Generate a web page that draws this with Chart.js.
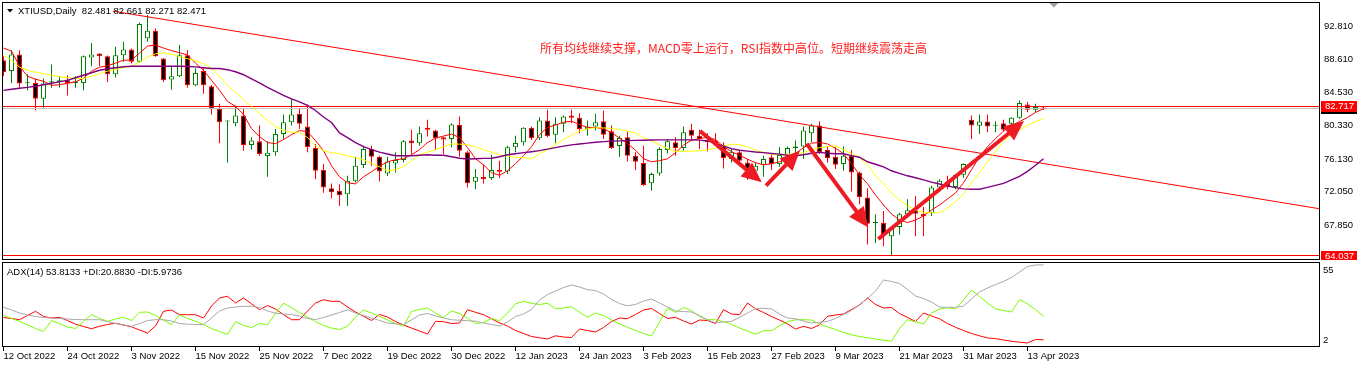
<!DOCTYPE html>
<html><head><meta charset="utf-8">
<script src="https://cdn.jsdelivr.net/npm/chart.js@4.4.0/dist/chart.umd.min.js"></script>
<style>
html,body{margin:0;padding:0;background:#fff;width:1362px;height:368px;overflow:hidden;}
#main{position:absolute;left:0;top:0;}
#adx{position:absolute;left:0;top:260px;}
</style></head><body>
<canvas id="main" width="1362" height="260"></canvas>
<canvas id="adx" width="1362" height="108"></canvas>
<script>
const dates = [
"12 Oct 2022","13 Oct 2022","14 Oct 2022","17 Oct 2022","18 Oct 2022","19 Oct 2022","20 Oct 2022","21 Oct 2022","24 Oct 2022","25 Oct 2022",
"26 Oct 2022","27 Oct 2022","28 Oct 2022","31 Oct 2022","1 Nov 2022","2 Nov 2022","3 Nov 2022","4 Nov 2022","7 Nov 2022","8 Nov 2022",
"9 Nov 2022","10 Nov 2022","11 Nov 2022","14 Nov 2022","15 Nov 2022","16 Nov 2022","17 Nov 2022","18 Nov 2022","21 Nov 2022","22 Nov 2022",
"23 Nov 2022","24 Nov 2022","25 Nov 2022","28 Nov 2022","29 Nov 2022","30 Nov 2022","1 Dec 2022","2 Dec 2022","5 Dec 2022","6 Dec 2022",
"7 Dec 2022","8 Dec 2022","9 Dec 2022","12 Dec 2022","13 Dec 2022","14 Dec 2022","15 Dec 2022","16 Dec 2022","19 Dec 2022","20 Dec 2022",
"21 Dec 2022","22 Dec 2022","23 Dec 2022","27 Dec 2022","28 Dec 2022","29 Dec 2022","30 Dec 2022","3 Jan 2023","4 Jan 2023","5 Jan 2023",
"6 Jan 2023","9 Jan 2023","10 Jan 2023","11 Jan 2023","12 Jan 2023","13 Jan 2023","16 Jan 2023","17 Jan 2023","18 Jan 2023","19 Jan 2023",
"20 Jan 2023","23 Jan 2023","24 Jan 2023","25 Jan 2023","26 Jan 2023","27 Jan 2023","30 Jan 2023","31 Jan 2023","1 Feb 2023","2 Feb 2023",
"3 Feb 2023","6 Feb 2023","7 Feb 2023","8 Feb 2023","9 Feb 2023","10 Feb 2023","13 Feb 2023","14 Feb 2023","15 Feb 2023","16 Feb 2023",
"17 Feb 2023","20 Feb 2023","21 Feb 2023","22 Feb 2023","23 Feb 2023","24 Feb 2023","27 Feb 2023","28 Feb 2023","1 Mar 2023","2 Mar 2023",
"3 Mar 2023","6 Mar 2023","7 Mar 2023","8 Mar 2023","9 Mar 2023","10 Mar 2023","13 Mar 2023","14 Mar 2023","15 Mar 2023","16 Mar 2023",
"17 Mar 2023","20 Mar 2023","21 Mar 2023","22 Mar 2023","23 Mar 2023","24 Mar 2023","27 Mar 2023","28 Mar 2023","29 Mar 2023","30 Mar 2023",
"31 Mar 2023","3 Apr 2023","4 Apr 2023","5 Apr 2023","6 Apr 2023","10 Apr 2023","11 Apr 2023","12 Apr 2023","13 Apr 2023","14 Apr 2023",
"17 Apr 2023"];

const opens = [88.52,87.18,89.24,85.70,85.66,83.70,85.71,85.79,86.00,85.66,
85.66,88.86,89.37,89.03,86.76,89.15,89.87,88.31,91.26,92.22,
88.74,86.09,86.51,89.15,85.37,87.18,85.25,82.44,80.85,80.62,
81.59,77.90,78.35,76.51,76.97,79.28,80.75,81.81,80.20,77.52,
74.75,72.48,72.14,71.72,73.40,75.38,77.39,76.42,74.32,75.58,
76.01,78.44,78.10,80.04,79.70,78.85,78.65,80.41,76.97,73.27,
73.90,73.74,74.79,74.57,77.60,78.23,80.04,78.73,80.96,79.16,
80.54,81.59,81.30,79.91,80.20,80.87,79.61,77.77,78.85,76.55,
75.63,73.11,74.32,77.27,78.23,77.52,79.79,79.06,78.53,78.44,
77.90,76.13,76.97,75.70,74.66,75.41,76.34,75.50,76.68,77.52,
77.69,79.36,80.33,77.27,76.42,75.50,76.55,74.45,71.30,68.10,
68.14,66.46,67.60,69.20,69.70,69.28,69.40,72.55,73.31,72.64,
74.15,81.05,80.29,80.83,80.30,80.62,80.54,81.30,82.98,82.31,
82.481];
const highs = [89.00,89.78,89.78,86.76,86.22,86.22,87.98,86.51,86.63,86.51,
89.10,90.63,89.40,89.10,90.20,90.83,90.00,93.23,94.20,92.50,
88.80,87.68,90.41,89.78,87.48,87.68,85.40,83.07,80.96,82.85,
82.44,78.85,80.33,78.35,79.91,81.72,83.70,82.44,82.98,78.02,
75.50,73.06,72.98,74.03,76.42,77.81,77.81,76.55,76.42,76.97,
78.53,79.79,80.20,81.05,79.79,78.90,80.62,81.46,77.18,74.87,
75.41,76.68,75.92,77.81,79.06,80.10,80.20,81.38,82.31,81.38,
81.59,82.31,81.88,80.96,81.81,82.22,80.33,79.06,79.57,76.97,
77.81,74.45,77.60,78.65,78.85,80.20,80.54,79.79,79.36,79.36,
78.23,77.39,77.18,76.13,75.70,76.55,76.68,77.60,77.69,78.44,
80.20,80.54,80.87,77.69,77.60,77.69,77.27,74.57,72.48,69.20,
69.61,67.72,69.40,71.09,71.51,70.12,72.77,73.61,74.03,74.24,
75.58,81.59,81.72,81.72,80.87,81.05,81.38,83.48,83.27,83.07,
82.661];
const lows = [86.50,85.63,85.08,84.74,82.22,82.56,85.08,85.08,84.11,85.08,
84.74,87.77,87.77,85.79,86.34,88.31,88.11,88.20,90.83,88.94,
85.79,84.83,86.40,85.08,85.25,84.33,81.72,78.10,75.70,80.25,
77.18,77.34,76.55,73.90,76.55,78.65,80.33,79.91,76.97,73.61,
71.92,71.22,70.25,70.25,73.18,75.00,75.29,73.31,73.99,74.45,
75.70,76.76,77.81,78.94,77.27,76.76,77.60,76.42,72.55,72.35,
73.06,73.49,73.74,74.24,76.97,77.81,78.53,78.53,78.85,78.10,
79.49,80.62,79.36,79.06,79.70,78.65,77.39,76.42,75.83,74.75,
72.77,72.14,74.03,76.84,76.55,77.18,78.44,77.39,77.10,77.81,
74.95,75.70,75.29,73.49,74.24,73.90,74.75,75.16,75.70,76.34,
76.13,78.23,76.76,75.70,74.87,74.66,72.05,70.46,65.42,65.62,
65.20,64.04,66.68,68.99,66.46,66.46,68.99,72.35,72.35,72.35,
73.74,78.65,79.28,79.49,79.49,79.61,79.28,81.17,82.01,82.01,
82.271];
const closes = [87.01,89.24,85.59,85.80,83.70,85.59,85.88,86.00,85.66,85.85,
89.03,89.24,89.03,86.76,89.15,89.87,88.31,93.06,92.22,89.03,
86.00,86.51,89.15,85.37,86.92,85.37,82.44,80.75,80.92,81.59,
77.90,78.44,76.76,76.93,79.28,80.75,81.72,80.54,77.60,74.66,
72.55,71.97,71.60,73.40,75.29,77.39,76.42,74.57,75.83,76.01,
78.35,78.10,79.36,79.79,78.73,78.57,80.46,77.18,73.11,73.90,
73.61,74.75,74.53,77.60,78.15,80.04,78.73,80.96,78.98,80.54,
81.46,81.30,79.91,80.20,80.75,79.16,77.52,78.78,76.55,75.79,
72.89,74.24,77.39,78.35,77.52,79.49,79.06,78.65,78.23,78.10,
76.26,76.97,75.92,74.45,75.29,76.13,75.50,76.64,77.52,77.69,
79.70,80.33,76.97,76.26,75.41,76.55,74.45,71.38,68.02,68.20,
66.59,67.51,69.20,69.70,69.28,68.95,72.55,73.40,72.64,74.15,
75.50,80.33,80.83,80.20,80.35,79.79,81.30,83.14,82.31,82.64,
82.471];

const maFast = [90.04,89.66,87.77,86.51,86.13,85.88,85.37,85.44,85.63,85.81,
86.26,87.14,87.64,87.83,88.15,88.52,88.52,89.41,90.29,90.41,
90.04,89.72,89.47,89.16,88.15,87.26,86.00,84.74,83.36,82.73,
81.72,79.95,78.94,78.19,78.06,78.57,79.20,79.70,79.57,78.44,
77.18,75.29,73.90,73.15,73.02,73.90,74.53,75.22,75.79,76.04,
76.17,76.67,77.30,78.19,78.75,79.01,79.26,78.82,77.56,76.17,
75.41,74.41,74.09,74.66,75.54,76.55,77.68,79.20,80.08,80.39,
80.75,80.87,80.46,80.08,80.08,79.91,79.45,78.75,78.06,77.24,
76.17,75.79,75.92,76.17,76.93,77.87,78.50,78.69,78.86,78.57,
77.68,77.05,76.61,76.11,75.67,75.41,75.54,75.79,76.17,76.80,
77.56,78.12,78.22,78.02,77.49,76.80,75.54,74.15,73.02,71.63,
70.37,69.24,68.48,68.17,68.48,68.99,69.74,70.37,71.13,71.88,
73.15,74.78,76.42,77.68,78.69,79.64,80.33,80.83,81.34,81.97,
82.44];
const maMid = [89.16,88.52,87.64,87.26,87.01,86.82,86.63,86.44,86.34,86.26,
86.22,86.51,86.82,87.14,87.33,87.58,87.77,88.27,88.90,89.33,
89.44,89.28,88.97,88.71,88.46,88.08,87.52,86.51,85.37,84.49,
83.61,82.73,81.84,80.96,80.20,79.70,79.49,79.49,78.82,77.81,
77.18,76.93,76.80,76.55,76.30,76.04,75.60,75.16,74.66,74.78,
75.16,75.92,76.67,76.99,77.30,77.68,78.02,78.00,77.93,77.68,
77.30,76.99,76.67,76.49,76.36,76.30,76.17,76.80,77.30,77.93,
78.57,79.13,79.64,79.95,80.04,80.04,79.95,79.83,79.64,79.39,
78.82,78.38,77.93,77.43,77.09,77.09,77.12,77.15,77.30,77.49,
77.75,78.00,77.93,77.68,77.24,76.93,76.74,76.67,76.71,76.76,
76.93,77.30,77.56,77.68,77.81,77.30,76.80,76.30,75.41,74.03,
73.02,71.88,71.00,70.25,69.74,69.40,69.40,69.40,69.99,70.75,
71.76,73.14,74.41,75.79,77.05,78.31,79.26,79.83,80.33,80.83,
81.21];
const maSlow = [84.74,84.87,85.00,85.12,85.25,85.44,85.63,85.81,86.00,86.32,
86.63,86.95,87.26,87.45,87.58,87.70,87.77,87.77,87.77,87.77,
87.77,87.77,87.77,87.73,87.68,87.58,87.48,87.48,87.33,87.07,
86.70,86.19,85.69,85.12,84.62,84.11,83.67,83.29,82.85,82.22,
81.40,80.71,79.40,78.82,78.19,77.68,77.30,76.99,76.76,76.55,
76.55,76.55,76.61,76.67,76.61,76.61,76.42,76.23,76.13,76.17,
76.21,76.23,76.42,76.67,76.80,76.93,77.05,77.18,77.37,77.56,
77.75,77.91,78.02,78.12,78.23,78.31,78.38,78.41,78.44,78.47,
78.49,78.52,78.53,78.53,78.53,78.53,78.53,78.50,78.40,78.12,
77.75,77.43,77.24,77.12,77.01,76.93,76.83,76.74,76.61,76.55,
76.67,76.86,76.96,76.86,76.80,76.80,76.55,76.36,75.79,75.48,
75.16,74.66,74.34,74.03,73.78,73.52,73.23,73.00,72.77,72.54,
72.39,72.35,72.35,72.58,72.83,73.08,73.52,73.96,74.59,75.35,
76.17];

const adxLine = [26.71,24.99,23.07,21.79,20.83,20.20,19.88,19.56,19.24,18.92,
18.79,18.79,18.79,17.64,16.36,15.41,14.58,16.36,18.28,18.79,
18.79,17.96,16.36,15.92,15.73,15.60,19.88,24.35,26.26,26.90,
27.35,27.35,26.58,24.35,22.94,22.43,22.05,21.15,19.56,18.92,
20.20,21.79,23.39,25.11,23.07,21.47,19.88,18.28,16.68,16.17,
15.73,18.60,21.79,22.75,21.15,19.88,18.73,18.47,18.15,17.83,
16.68,15.73,14.77,17.32,20.83,22.43,25.31,31.37,34.88,37.12,
39.35,40.95,39.67,37.95,37.44,35.20,31.69,29.14,27.67,28.50,
30.73,32.01,29.46,26.90,24.35,24.03,23.71,21.47,18.60,16.81,
17.32,17.77,20.20,23.07,25.94,26.07,25.62,22.43,19.88,19.37,
17.96,16.68,17.19,17.64,19.56,22.11,24.67,28.50,32.33,37.12,
44.14,43.19,41.91,38.08,33.93,32.33,30.09,26.90,26.71,26.71,
27.54,32.01,36.48,39.04,41.27,43.19,45.74,49.25,52.76,53.72,
53.81];
const plusDI = [21.47,19.56,17.77,15.41,13.17,11.26,18.28,16.36,14.13,13.17,
17.64,22.11,19.56,17.77,19.24,20.32,18.28,23.52,23.71,21.47,
18.60,15.73,21.79,19.56,17.83,15.73,13.17,11.26,9.34,17.64,
15.09,13.81,16.36,15.60,22.75,29.33,26.58,23.39,20.52,17.64,
15.09,13.49,12.53,14.58,20.52,24.99,23.07,20.96,18.60,16.36,
14.77,24.03,25.31,26.26,23.07,20.20,24.35,22.75,19.69,16.36,
17.00,19.56,18.15,23.07,28.95,30.54,29.26,28.50,29.33,25.82,
26.26,27.03,23.52,20.32,23.07,21.47,18.47,16.05,14.00,11.89,
9.98,8.38,17.32,26.07,23.52,26.58,24.60,20.83,18.79,18.79,
17.64,15.73,13.49,11.58,9.53,11.77,11.77,14.90,17.45,18.79,
18.79,18.60,16.05,14.13,12.53,10.62,9.15,8.06,7.30,6.47,
5.70,5.00,13.17,18.79,17.45,16.05,23.07,25.62,26.45,25.62,
31.37,37.76,33.61,29.46,25.75,24.67,23.71,31.69,28.82,25.31,
20.88];
const minusDI = [20.20,19.56,18.79,21.47,24.16,20.83,19.88,20.32,18.28,15.92,
14.45,13.04,14.58,15.73,16.49,15.41,14.26,12.21,10.30,14.77,
24.16,24.99,21.98,21.98,21.98,19.88,27.54,32.65,33.73,29.46,
32.65,28.95,25.18,27.86,25.62,21.98,18.79,18.79,24.35,29.46,
31.56,30.54,30.54,26.90,23.71,20.96,18.28,22.11,20.52,17.64,
15.41,13.49,11.58,9.66,17.77,17.51,16.36,16.68,25.18,23.52,
21.98,19.43,16.68,14.77,11.89,9.98,8.06,7.23,6.47,8.51,
7.74,7.42,12.85,11.89,10.94,13.81,17.64,19.88,19.43,22.11,
24.99,25.94,22.75,19.56,20.32,17.96,16.05,18.60,18.28,16.36,
25.18,22.43,21.98,29.46,25.75,23.39,20.83,18.60,16.17,12.85,
14.58,13.17,15.53,20.96,21.79,22.43,25.31,28.18,32.65,28.50,
26.26,26.58,22.75,20.32,17.64,23.07,21.15,19.37,16.36,13.94,
11.89,9.98,8.51,7.11,6.72,5.83,5.00,4.42,3.91,6.15,
5.97];

const priceTicks = [92.81, 88.61, 84.53, 80.33, 76.13, 72.05, 67.85];
const adxTickLabels = [55, 2];
const dateTickIdx = [0,8,16,24,32,40,48,56,64,72,80,88,96,104,112,120,128];
const levelLines = [82.717, 64.037];
const bidLevel = 82.471;
const trendPts = [{x:13.69, y:94.67}, {x:164.44, y:69.91}];
const arrows = [
  [87.06, 79.64, 94.78, 73.22],
  [95.31, 72.81, 99.56, 77.21],
  [100.4, 78.05, 108.1, 67.56],
  [109.35, 66.10, 127.56, 80.90]
];
const shiftMarkIdx = 131.3;
const headerText = 'XTIUSD,Daily  82.481 82.661 82.271 82.471';
const adxHeader = 'ADX(14) 53.8133 +DI:20.8830 -DI:5.9736';
const noteText = '所有均线继续支撑，MACD零上运行，RSI指数中高位。短期继续震荡走高';

const X_MIN = -0.0625, X_MAX = 164.4375;
const P_MIN = 63.6, P_MAX = 95.69;
const FONT = '"Liberation Sans", Arial, sans-serif';
const FS = 9.5;
const UP = '#008000', DN = '#ff0000';

const idx = dates.map((d, i) => i);
const isUp = i => closes[i] >= opens[i];
const pts = arr => arr.map((v, i) => ({x: i, y: v}));

function drawArrow(ctx, x1, y1, x2, y2) {
  const ang = Math.atan2(y2 - y1, x2 - x1);
  const hl = 20, hw = 9;
  const bx = x2 - hl * Math.cos(ang), by = y2 - hl * Math.sin(ang);
  ctx.strokeStyle = '#ed1c24'; ctx.fillStyle = '#ed1c24';
  ctx.lineWidth = 4; ctx.lineCap = 'butt';
  ctx.beginPath(); ctx.moveTo(x1, y1); ctx.lineTo(bx + Math.cos(ang), by + Math.sin(ang)); ctx.stroke();
  ctx.beginPath(); ctx.moveTo(x2, y2);
  ctx.lineTo(bx + hw * Math.sin(ang), by - hw * Math.cos(ang));
  ctx.lineTo(bx - hw * Math.sin(ang), by + hw * Math.cos(ang));
  ctx.closePath(); ctx.fill();
}

const noPad = s => { s.paddingTop = 0; s.paddingBottom = 0; s.paddingLeft = 0; s.paddingRight = 0; };

const mainDecor = {
  id: 'mainDecor',
  beforeDraw(c) { const ctx = c.ctx; ctx.save(); ctx.fillStyle = '#fff'; ctx.fillRect(0, 0, c.width, c.height); ctx.restore(); },
  afterDatasetsDraw(c) {
    const ctx = c.ctx, xs = c.scales.x, ys = c.scales.y, a = c.chartArea;
    ctx.save();
    ctx.beginPath(); ctx.rect(a.left, a.top, a.right - a.left, a.bottom - a.top); ctx.clip();
    arrows.forEach(r => drawArrow(ctx, xs.getPixelForValue(r[0]), ys.getPixelForValue(r[1]), xs.getPixelForValue(r[2]), ys.getPixelForValue(r[3])));
    ctx.restore();
  },
  afterDraw(c) {
    const ctx = c.ctx, xs = c.scales.x, ys = c.scales.y, a = c.chartArea;
    ctx.save();
    ctx.strokeStyle = '#000'; ctx.lineWidth = 1;
    ctx.strokeRect(a.left - 0.5, a.top - 0.5, a.right - a.left + 1, a.bottom - a.top + 1);
    ctx.fillStyle = '#000';
    ctx.beginPath(); ctx.moveTo(7, 9); ctx.lineTo(13, 9); ctx.lineTo(10, 12.5); ctx.closePath(); ctx.fill();
    ctx.font = FS + 'px ' + FONT; ctx.textBaseline = 'middle'; ctx.textAlign = 'left';
    ctx.fillText(headerText, 18, 11);
    const sx = xs.getPixelForValue(shiftMarkIdx);
    ctx.fillStyle = '#a0a0a0';
    ctx.beginPath(); ctx.moveTo(sx - 4.5, 3); ctx.lineTo(sx + 4.5, 3); ctx.lineTo(sx, 7.5); ctx.closePath(); ctx.fill();
    ctx.fillStyle = '#ff2020';
    ctx.font = '12px "Noto Sans CJK SC", sans-serif';
    ctx.fillText(noteText, 540, 48);
    ctx.font = FS + 'px ' + FONT;
    const tag = (v, bg) => {
      const y = Math.round(ys.getPixelForValue(v));
      ctx.fillStyle = bg; ctx.fillRect(1321, y - 5, 36, 11);
      ctx.fillStyle = '#fff'; ctx.fillText(v.toFixed(3), 1325, y + 0.5);
    };
    tag(bidLevel, '#000');
    levelLines.forEach(v => tag(v, '#ff0000'));
    ctx.restore();
  }
};

new Chart(document.getElementById('main'), {
  type: 'bar',
  data: {
    datasets: [
      {type: 'line', data: pts(maSlow), borderColor: '#800080', borderWidth: 1.4, pointRadius: 0, order: 1},
      {type: 'line', data: pts(maMid), borderColor: '#ffff00', borderWidth: 1, pointRadius: 0, order: 1},
      {type: 'line', data: pts(maFast), borderColor: '#ff0000', borderWidth: 1, pointRadius: 0, order: 1},
      {type: 'line', data: trendPts, borderColor: '#ff0000', borderWidth: 1, pointRadius: 0, order: 1},
      {type: 'line', data: [{x: X_MIN, y: bidLevel}, {x: X_MAX, y: bidLevel}], borderColor: '#c0c0c0', borderWidth: 1, pointRadius: 0, order: 2},
      ...levelLines.map(v => ({type: 'line', data: [{x: X_MIN, y: v}, {x: X_MAX, y: v}], borderColor: '#ff0000', borderWidth: 1, pointRadius: 0, order: 1})),
      {type: 'bar', data: idx.map(i => ({x: i, y: [lows[i], highs[i]]})),
        backgroundColor: idx.map(i => isUp(i) ? UP : DN), borderWidth: 0,
        barThickness: 1, grouped: false, inflateAmount: 0, order: 6},
      {type: 'bar', data: idx.map(i => ({x: i, y: [opens[i], closes[i]]})),
        backgroundColor: idx.map(i => isUp(i) ? '#ffffff' : '#000000'),
        borderColor: idx.map(i => isUp(i) ? UP : DN), borderWidth: 1, borderSkipped: false,
        barThickness: 5, grouped: false, minBarLength: 1, inflateAmount: 0, order: 5}
    ]
  },
  options: {
    responsive: false, animation: false, devicePixelRatio: 1,
    layout: {padding: {left: 3, top: 3, right: 0, bottom: 1}},
    plugins: {legend: {display: false}, tooltip: {enabled: false}},
    scales: {
      x: {type: 'linear', min: X_MIN, max: X_MAX, offset: false, display: false},
      y: {type: 'linear', position: 'right', min: P_MIN, max: P_MAX,
        afterBuildTicks: s => { s.ticks = priceTicks.map(v => ({value: v})); },
        afterFit: s => { s.width = 43; noPad(s); },
        grid: {display: false, drawOnChartArea: false, drawTicks: false},
        border: {display: false},
        ticks: {padding: 5, color: '#000', font: {family: FONT, size: FS}, callback: v => Number(v).toFixed(3)}
      }
    }
  },
  plugins: [mainDecor]
});

const adxDecor = {
  id: 'adxDecor',
  beforeDraw(c) { const ctx = c.ctx; ctx.save(); ctx.fillStyle = '#fff'; ctx.fillRect(0, 0, c.width, c.height); ctx.restore(); },
  afterDraw(c) {
    const ctx = c.ctx, a = c.chartArea;
    ctx.save();
    ctx.strokeStyle = '#000'; ctx.lineWidth = 1;
    ctx.strokeRect(a.left - 0.5, a.top - 0.5, a.right - a.left + 1, a.bottom - a.top);
    ctx.fillStyle = '#000'; ctx.font = FS + 'px ' + FONT; ctx.textBaseline = 'middle'; ctx.textAlign = 'left';
    ctx.fillText(adxHeader, 7, 12.5);
    ctx.fillText(String(adxTickLabels[0]), 1323, a.top + 7);
    ctx.fillText(String(adxTickLabels[1]), 1323, a.bottom - 6.5);
    ctx.restore();
  }
};

new Chart(document.getElementById('adx'), {
  type: 'line',
  data: {
    datasets: [
      {data: pts(adxLine), borderColor: '#a8a8a8', borderWidth: 1, pointRadius: 0},
      {data: pts(plusDI), borderColor: '#7cfc00', borderWidth: 1, pointRadius: 0},
      {data: pts(minusDI), borderColor: '#ff0000', borderWidth: 1, pointRadius: 0}
    ]
  },
  options: {
    responsive: false, animation: false, devicePixelRatio: 1,
    layout: {padding: {left: 3, top: 3, right: 0, bottom: 0}},
    plugins: {legend: {display: false}, tooltip: {enabled: false}},
    scales: {
      x: {type: 'linear', min: X_MIN, max: X_MAX, offset: false,
        afterBuildTicks: s => { s.ticks = dateTickIdx.map(v => ({value: v})); },
        afterFit: s => { s.height = 21; noPad(s); },
        grid: {drawOnChartArea: false, drawTicks: true, tickLength: 4, color: '#000'},
        border: {display: false},
        ticks: {align: 'start', maxRotation: 0, autoSkip: false, padding: 0, color: '#000',
          font: {family: FONT, size: FS}, callback: v => dates[v]}
      },
      y: {type: 'linear', position: 'right', min: 1.36, max: 55,
        afterFit: s => { s.width = 43; noPad(s); },
        grid: {display: false}, border: {display: false}, ticks: {display: false}
      }
    }
  },
  plugins: [adxDecor]
});
</script>
</body></html>
